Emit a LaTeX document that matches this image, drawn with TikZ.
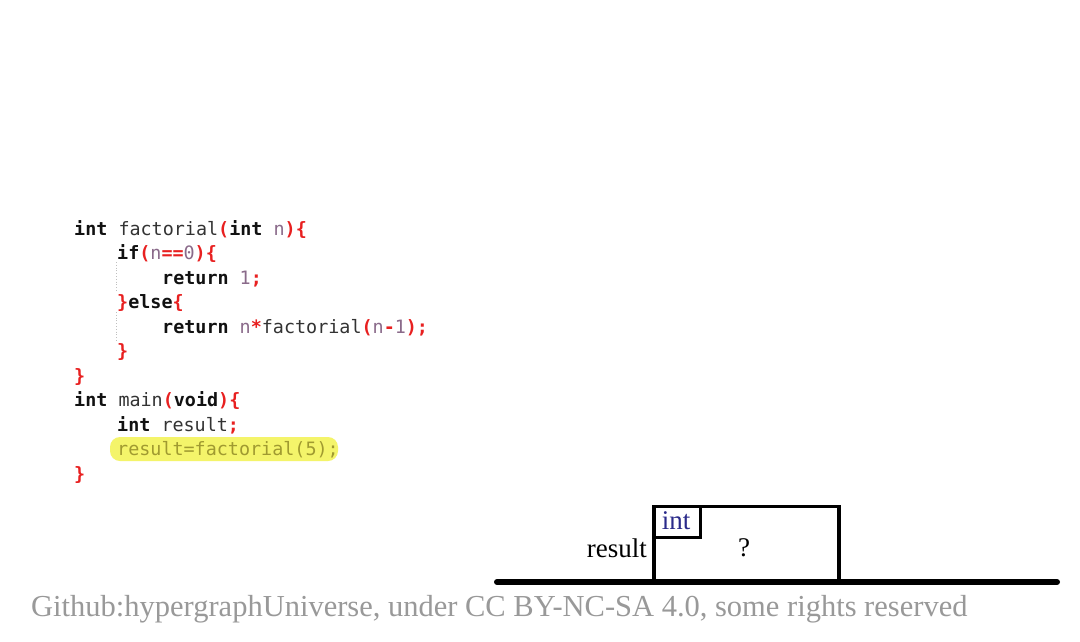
\documentclass[tikz,border=0pt]{standalone}
\usepackage{fontspec}
\setmainfont{Liberation Serif}
\setmonofont{DejaVu Sans Mono}
\definecolor{codered}{HTML}{E82020}
\definecolor{codekw}{HTML}{111111}
\definecolor{codeid}{HTML}{333333}
\definecolor{codenum}{HTML}{8A6A8A}
\definecolor{hlyellow}{HTML}{F4F46A}
\definecolor{hltext}{HTML}{A09A30}
\definecolor{typeblue}{HTML}{2A2A8A}
\definecolor{footgray}{HTML}{999999}
\newcommand\rd[1]{\textcolor{codered}{\textbf{#1}}}
\newcommand\kw[1]{\textcolor{codekw}{\textbf{#1}}}
\newcommand\nm[1]{\textcolor{codenum}{#1}}
\begin{document}
\begin{tikzpicture}[x=1pt,y=-1pt,
  codeline/.style={anchor=base west,inner sep=0pt,font=\fontsize{18.4}{18.4}\selectfont\ttfamily,text=codeid},
  guide/.style={draw=gray!50,dotted,line width=0.8pt},
  cell/.style={draw=black,line width=3.5pt},
  serif/.style={font=\fontsize{27}{27}\selectfont,inner sep=0pt}]
\useasboundingbox[fill=white] (0,0) rectangle (1080,641);
% highlight
\fill[hlyellow,rounded corners=10pt] (110,437) rectangle (338,461);
% code
\node[codeline] (l1) at (74,235) {\kw{int} factorial\rd{(}\kw{int} \nm{n}\rd{)\{}};
\node[codeline] (l2) at (117,259.5) {\kw{if}\rd{(}\nm{n}\rd{==}\nm{0}\rd{)\{}};
\node[codeline] (l3) at (162,284) {\kw{return} \nm{1}\rd{;}};
\node[codeline] (l4) at (117,308.5) {\rd{\}}\kw{else}\rd{\{}};
\node[codeline] (l5) at (162,333) {\kw{return} \nm{n}\rd{*}factorial\rd{(}\nm{n}\rd{-}\nm{1}\rd{);}};
\node[codeline] (l6) at (117,357.5) {\rd{\}}};
\node[codeline] (l7) at (74,382) {\rd{\}}};
\node[codeline] (l8) at (74,406.5) {\kw{int} main\rd{(}\kw{void}\rd{)\{}};
\node[codeline] (l9) at (117,431) {\kw{int} result\rd{;}};
\node[codeline,text=hltext] (l10) at (117,455.5) {result=factorial(5);};
\node[codeline] (l11) at (74,480) {\rd{\}}};
% guides
\draw[guide] (116,262) -- (116,291);
\draw[guide] (116,312) -- (116,341);
% memory cell
\draw[cell] (654,580) -- (654,506.5) -- (839,506.5) -- (839,580);
\draw[cell,line width=3pt] (654,537.5) -- (700.5,537.5) -- (700.5,506.5);
\node[serif,text=typeblue] (ty) at (676,521) {int};
\node[serif,anchor=east] (nm) at (647,548) {result};
\node[serif] (val) at (744,548) {?};
\draw[line width=6pt,line cap=round] (497,582) -- (1057,582);
% footer
\node[font=\fontsize{30.5}{30.5}\selectfont,text=footgray,anchor=west,inner sep=0pt] (foot) at (31,609) {Github:hypergraphUniverse, under CC BY-NC-SA 4.0, some rights reserved};
\end{tikzpicture}
\end{document}
